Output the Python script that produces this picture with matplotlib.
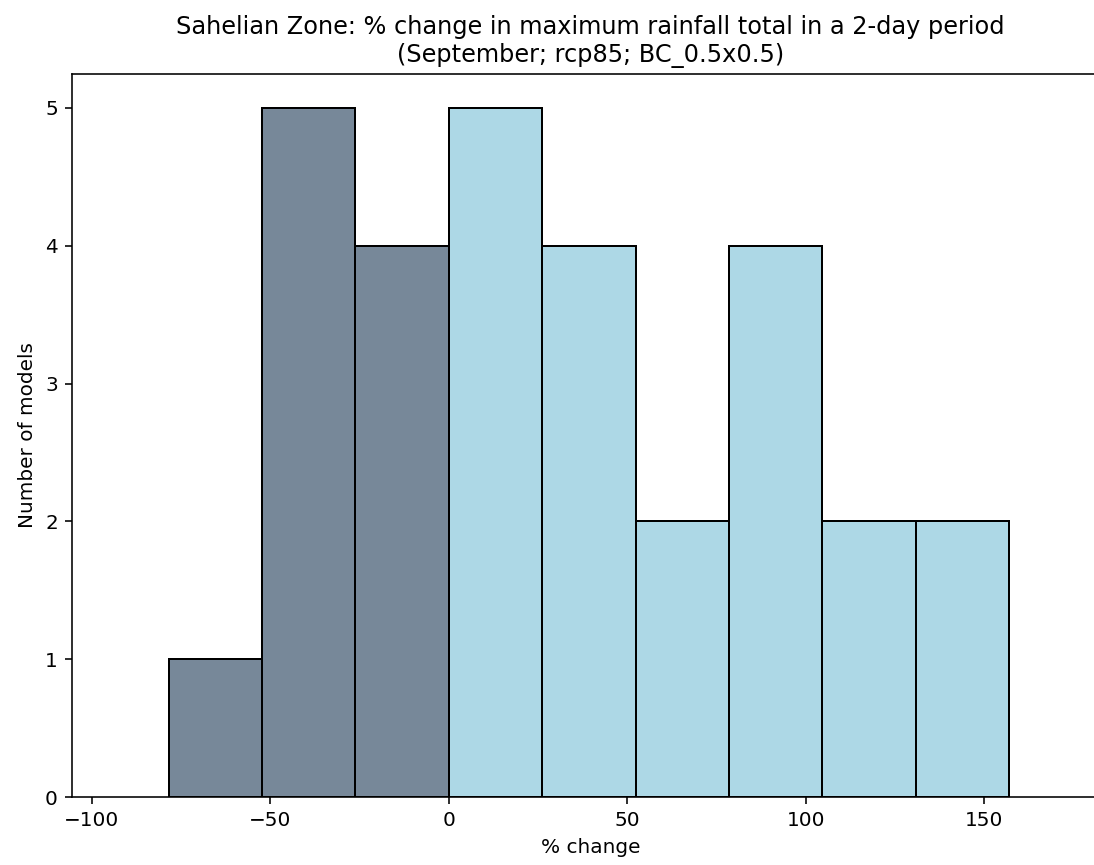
import numpy as np
import matplotlib
matplotlib.use('Agg')
import matplotlib.pyplot as plt

# Datos del histograma
bin_edges = [-78.5, -52.33, -26.17, 0.0, 26.17, 52.33, 78.5, 104.67, 130.83, 157.0]
counts = [1, 5, 4, 5, 4, 2, 4, 2, 2]

title = ('Sahelian Zone: % change in maximum rainfall total in a 2-day period\n'
         '(September; rcp85; BC_0.5x0.5)')

edges = np.array(bin_edges)
lefts = edges[:-1]
widths = np.diff(edges)
colors = ['lightslategray' if l < 0 else 'lightblue' for l in lefts]

fig = plt.figure(figsize=(1094 / 144, 865 / 144), dpi=144)
ax = fig.add_axes([0.0658, 0.0786, 0.948, 0.8364])

ax.bar(lefts, counts, width=widths, align='edge', color=colors,
       edgecolor='black', linewidth=1)

ax.set_xlim(-105.6, 185)
ax.set_ylim(0, 5.25)
ax.set_xticks([-100, -50, 0, 50, 100, 150])
ax.set_yticks([0, 1, 2, 3, 4, 5])
ax.spines['right'].set_visible(False)

ax.set_title(title)
ax.set_xlabel('% change')
ax.set_ylabel('Number of models')

fig.savefig('out.png', dpi=144)
